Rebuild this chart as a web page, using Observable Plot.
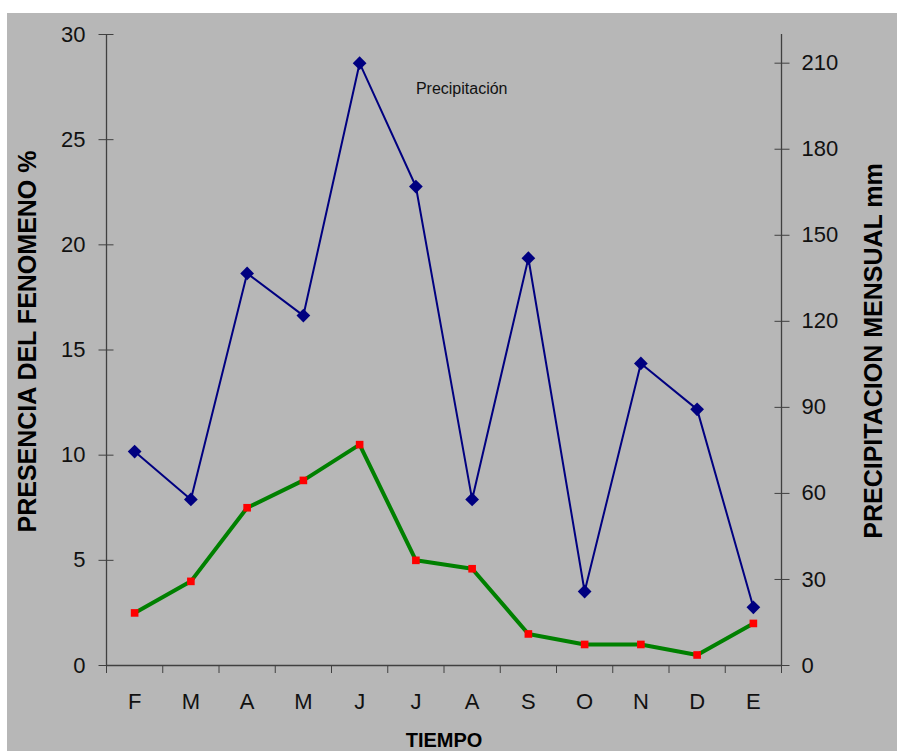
<!DOCTYPE html>
<html>
<head>
<meta charset="utf-8">
<script src="https://cdn.jsdelivr.net/npm/d3@7"></script>
<script src="https://cdn.jsdelivr.net/npm/@observablehq/plot@0.6"></script>
<style>
  html, body { margin: 0; padding: 0; background: #ffffff; }
  #chart { position: absolute; left: 7px; top: 13px; }
</style>
</head>
<body>
<div id="chart"></div>
<script>
const months = ["F","M","A","M","J","J","A","S","O","N","D","E"];
const precipitacion = [74.6, 57.9, 136.7, 122, 210, 167, 57.9, 142, 25.8, 105.3, 89.3, 20.3];
const presencia = [2.5, 4.0, 7.5, 8.8, 10.5, 5.0, 4.6, 1.5, 1.0, 1.0, 0.5, 2.0];
const leftTicks = [0, 5, 10, 15, 20, 25, 30];
const rightTicks = [0, 30, 60, 90, 120, 150, 180, 210];
const leftMax = 30;
const rightMax = 220;
const k = leftMax / rightMax;

const idx = months.map((_, i) => i);
const bounds = idx.concat(months.length);
const centers = idx.map(i => i + 0.5);
const axisColor = "#404040";

const chart = Plot.plot({
  width: 890,
  height: 738,
  marginLeft: 99,
  marginRight: 116,
  marginTop: 21,
  marginBottom: 86,
  style: {background: "#b7b7b7", fontFamily: "'Liberation Sans', Arial, sans-serif", fontSize: "22px", color: "#000"},
  x: {domain: [0, months.length], axis: null},
  y: {domain: [0, leftMax], axis: null},
  marks: [
    Plot.ruleX([0, months.length], {stroke: axisColor, strokeWidth: 1.3}),
    Plot.ruleY([0], {stroke: axisColor, strokeWidth: 1.3}),
    // left axis
    Plot.axisY({anchor: "left", ticks: leftTicks, tickSize: 15, dx: 7.5, tickFormat: () => "", stroke: axisColor, label: null}),
    Plot.axisY({anchor: "left", ticks: leftTicks, tickSize: 0, tickPadding: 21, tickFormat: d => d, label: null, fill: "#111", fontSize: 22}),
    // right axis
    Plot.axisY({anchor: "right", ticks: rightTicks.map(v => v * k), tickSize: 15, dx: -7.5, tickFormat: () => "", stroke: axisColor, label: null}),
    Plot.axisY({anchor: "right", ticks: rightTicks.map(v => v * k), tickSize: 0, tickPadding: 20, tickFormat: v => Math.round(v / k), label: null, fill: "#111", fontSize: 22}),
    // x axis
    Plot.axisX({ticks: bounds, tickSize: 8, tickFormat: () => "", stroke: axisColor, label: null}),
    Plot.axisX({ticks: centers, tickSize: 0, tickPadding: 28, tickFormat: v => months[Math.round(v - 0.5)], label: null, fill: "#111", fontSize: 22}),
    // precipitation (right axis)
    Plot.line(precipitacion, {x: (d, i) => i + 0.5, y: d => d * k, stroke: "#000080", strokeWidth: 2}),
    Plot.dot(precipitacion, {x: (d, i) => i + 0.5, y: d => d * k, symbol: "diamond2", r: 6.2, fill: "#000080", stroke: null}),
    // presence (left axis)
    Plot.line(presencia, {x: (d, i) => i + 0.5, y: d => d, stroke: "#008000", strokeWidth: 4}),
    Plot.dot(presencia, {x: (d, i) => i + 0.5, y: d => d, symbol: "square", r: 4.3, fill: "#ff0000", stroke: null}),
    // annotation
    Plot.text(["Precipitación"], {x: 5.5, y: 201 * k, textAnchor: "start", fontSize: 16, fill: "#111"}),
    // axis titles
    Plot.text(["PRESENCIA DEL FENOMENO %"], {frameAnchor: "left", textAnchor: "middle", dx: -79, dy: -8.5, rotate: -90, fontWeight: "bold", fontSize: 25, fill: "#000"}),
    Plot.text(["PRECIPITACION MENSUAL mm"], {frameAnchor: "right", textAnchor: "middle", dx: 92.5, dy: 1, rotate: -90, fontWeight: "bold", fontSize: 25, fill: "#000"}),
    Plot.text(["TIEMPO"], {frameAnchor: "bottom", dy: 81, fontWeight: "bold", fontSize: 20, fill: "#000"})
  ]
});
document.getElementById("chart").appendChild(chart);
</script>
</body>
</html>
